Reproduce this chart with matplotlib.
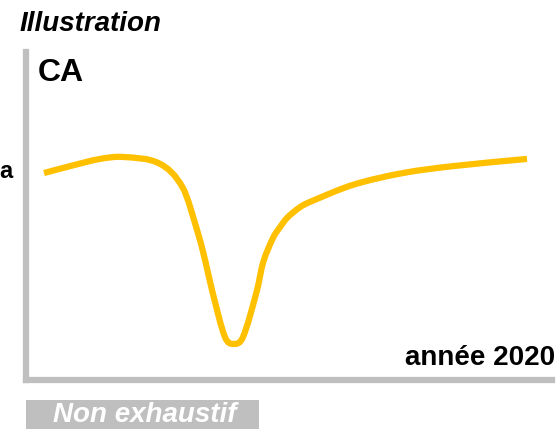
import matplotlib.pyplot as plt
import numpy as np
from matplotlib.patches import PathPatch, Rectangle
from matplotlib.path import Path

plt.rcParams["font.family"] = ["Liberation Sans", "DejaVu Sans"]

# semaine de l'annee 2020 / indice de chiffre d'affaires (illustratif)
weeks = [1.78, 4.35, 7.32, 9.59, 13.25, 15.52, 17.00, 17.70, 18.39, 19.67,
         20.56, 21.45, 22.84, 23.43, 24.42, 25.11, 25.80, 27.09, 28.08, 32.33,
         37.27, 42.21, 49.53]
ca = [63.1, 65.2, 67.4, 68.0, 65.9, 58.5, 44.8, 36.6, 27.4, 13.1,
      11.0, 13.1, 27.4, 35.7, 43.3, 46.6, 49.4, 52.7, 54.3, 59.5,
      63.1, 65.2, 67.4]

W, H = 558, 429
fig = plt.figure(figsize=(W / 100, H / 100), dpi=100)
ax = fig.add_axes([26 / W, 49 / H, (552 - 26) / W, (377 - 49) / H])

# courbe lissee : segments de Bezier (Hermite) passant par les points
x = np.array(weeks)
y = np.array(ca)
n = len(x)
slope = np.empty(n)
slope[1:-1] = (y[2:] - y[:-2]) / (x[2:] - x[:-2])
slope[0] = (y[1] - y[0]) / (x[1] - x[0])
slope[-1] = (y[-1] - y[-2]) / (x[-1] - x[-2])
verts = [(x[0], y[0])]
codes = [Path.MOVETO]
for i in range(n - 1):
    h = x[i + 1] - x[i]
    verts += [(x[i] + h / 3, y[i] + slope[i] * h / 3),
              (x[i + 1] - h / 3, y[i + 1] - slope[i + 1] * h / 3),
              (x[i + 1], y[i + 1])]
    codes += [Path.CURVE4] * 3
ax.add_patch(PathPatch(Path(verts, codes), fill=False, edgecolor="#FFC000",
                       lw=4.5, capstyle="butt", joinstyle="round"))
ax.set_xlim(0, 52)
ax.set_ylim(0, 100)

for side in ["top", "right"]:
    ax.spines[side].set_visible(False)
for side in ["left", "bottom"]:
    ax.spines[side].set_color("#BFBFBF")
    ax.spines[side].set_linewidth(4.5)
    ax.spines[side].set_capstyle("projecting")
ax.set_xticks([])
ax.set_yticks([])
ax.patch.set_alpha(0)

fig.text(20 / W, 1 - 24 / H, "Illustration", fontsize=20, fontweight="bold",
         fontstyle="italic", va="center", ha="left")
fig.text(38 / W, 1 - 73 / H, "CA", fontsize=23, fontweight="bold",
         va="center", ha="left")
fig.text(13 / W, 1 - 171 / H, "a", fontsize=17, fontweight="bold",
         va="center", ha="right")
fig.text(555 / W, 1 - 358 / H, "année 2020", fontsize=20, fontweight="bold",
         va="center", ha="right")

fig.add_artist(Rectangle((26 / W, 0), (259 - 26) / W, 29 / H,
                         transform=fig.transFigure, facecolor="#BFBFBF",
                         edgecolor="none"))
fig.text(145 / W, 1 - 415 / H, "Non exhaustif", fontsize=20, fontweight="bold",
         fontstyle="italic", color="white", va="center", ha="center")

fig.savefig("out.png", dpi=100)
